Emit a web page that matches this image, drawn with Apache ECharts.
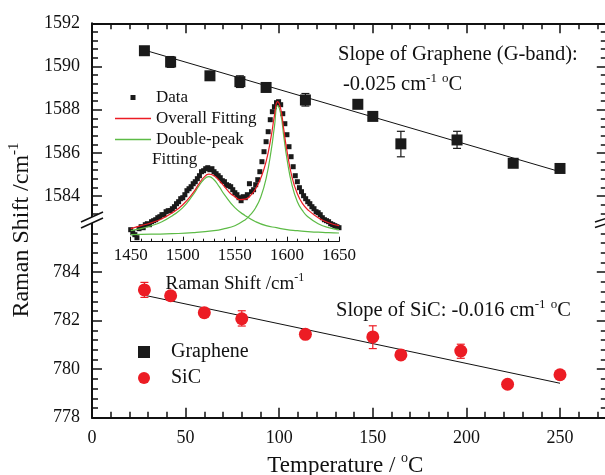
<!DOCTYPE html>
<html>
<head>
<meta charset="utf-8">
<script src="https://cdn.jsdelivr.net/npm/echarts@6/dist/echarts.min.js"></script>
<style>
  html, body { margin: 0; padding: 0; background: #fff; }
  #chart { width: 605px; height: 475px; }
</style>
</head>
<body>
<div id="chart"></div>
<script>
// main plot: temperature vs peak position
const grapheneT = [28, 42, 63, 79, 93, 114, 142, 150, 165, 195, 225, 250]
const grapheneShift = [1590.73, 1590.21, 1589.57, 1589.3, 1589.03, 1588.45, 1588.25, 1587.69, 1586.42, 1586.6, 1585.52, 1585.28]
// [T, low, high]
const grapheneErr = [[42, 1589.96, 1590.46], [79, 1589.03, 1589.57], [114, 1588.17, 1588.75], [165, 1585.82, 1587.0], [195, 1586.21, 1587.0]]
const grapheneFit = [[28, 1590.76], [250, 1585.13]]

const sicT = [28, 42, 60, 80, 114, 150, 165, 197, 222, 250]
const sicShift = [783.27, 783.03, 782.33, 782.08, 781.44, 781.33, 780.59, 780.75, 779.38, 779.77]
const sicErr = [[28, 782.96, 783.58], [80, 781.78, 782.41], [150, 780.85, 781.79], [197, 780.45, 781.03]]
const sicFit = [[28, 783.05], [250, 779.42]]

const topTicks = [1584, 1586, 1588, 1590, 1592]
const bottomTicks = [778, 780, 782, 784]

// inset: Raman spectrum (intensity in a.u.)
const specWn = [1450, 1452, 1454, 1456, 1458, 1460, 1462, 1464, 1466, 1468, 1470, 1472, 1474, 1476, 1478, 1480, 1482, 1484, 1486, 1488,
  1490, 1492, 1494, 1496, 1498, 1500, 1502, 1504, 1506, 1508, 1510, 1512, 1514, 1516, 1518, 1520, 1522, 1524, 1526, 1528,
  1530, 1532, 1534, 1536, 1538, 1540, 1542, 1544, 1546, 1548, 1550, 1552, 1554, 1556, 1558, 1560, 1562, 1564, 1566, 1568,
  1570, 1572, 1574, 1576, 1578, 1580, 1582, 1584, 1586, 1588, 1590, 1592, 1594, 1596, 1598, 1600, 1602, 1604, 1606, 1608,
  1610, 1612, 1614, 1616, 1618, 1620, 1622, 1624, 1626, 1628, 1630, 1632, 1634, 1636, 1638, 1640, 1642, 1644, 1646, 1648, 1650]
const specI = [12, 9, 7, 4, 13, 15, 14, 17, 18, 17, 20, 21, 22, 24, 25, 27, 27, 30, 31, 31,
  33, 35, 38, 40, 43, 44, 47, 51, 53, 55, 58, 60, 63, 66, 70, 71, 73, 74, 72, 73,
  70, 68, 66, 64, 61, 60, 57, 56, 55, 52, 49, 47, 44, 41, 45, 44, 47, 58, 50, 52,
  57, 62, 70, 80, 90, 100, 110, 122, 130, 135, 139, 140, 137, 128, 118, 107, 95, 85, 75, 66,
  60, 54, 50, 46, 43, 40, 38, 35, 33, 30, 29, 27, 24, 22, 21, 20, 18, 17, 16, 15, 14]

const fitWn = [1450, 1460, 1470, 1480, 1490, 1500, 1510, 1515, 1520, 1525, 1530, 1535, 1540, 1545, 1550, 1555, 1560, 1565, 1570, 1575,
  1580, 1585, 1588, 1591, 1594, 1597, 1600, 1605, 1610, 1615, 1620, 1630, 1640, 1650]
const overallFit = [13, 16, 19, 23, 29, 37, 49, 57, 64, 67.5, 66, 61, 55, 49, 45, 42, 42.5, 46, 53, 64,
  80, 106, 126, 140, 133, 112, 91, 64, 48, 38, 32, 24, 19, 16]
const dPeakWn = [1450, 1460, 1470, 1480, 1490, 1500, 1510, 1515, 1520, 1525, 1530, 1535, 1540, 1550, 1560, 1570, 1580, 1590, 1600, 1610, 1620, 1630, 1640, 1650]
const dPeak = [11, 13, 16, 20, 26, 34, 47, 55, 62, 65, 62, 55, 47, 34, 26, 20, 16, 14, 12, 11, 10, 9.5, 9, 8.7]
const gPeakWn = [1450, 1470, 1490, 1510, 1530, 1540, 1550, 1560, 1565, 1570, 1575, 1580, 1585, 1588, 1591, 1594, 1597, 1600, 1605, 1610, 1615, 1620, 1630, 1640, 1650]
const gPeak = [7, 7.5, 8, 9, 11, 13, 16, 22, 27, 34, 45, 63, 92, 115, 136, 128, 105, 83, 56, 40, 31, 25, 18, 14, 12]

const serif = "'Liberation Serif', 'Times New Roman', serif"
const ink = '#111'
const red = '#ec1c24'
const green = '#5dbb46'
const plain = v => String(v)

const zip = (a, b) => a.map((v, i) => [v, b[i]])

function errorBars (name, xi, yi, data, color) {
  return {
    type: 'custom',
    name: name,
    xAxisIndex: xi,
    yAxisIndex: yi,
    data: data,
    encode: { x: 0, y: [1, 2] },
    z: 3,
    renderItem (params, api) {
      const x = api.value(0)
      const lo = api.coord([x, api.value(1)])
      const hi = api.coord([x, api.value(2)])
      const w = 4
      const style = { stroke: color, lineWidth: 1.2 }
      return {
        type: 'group',
        children: [
          { type: 'line', shape: { x1: hi[0], y1: hi[1], x2: lo[0], y2: lo[1] }, style },
          { type: 'line', shape: { x1: hi[0] - w, y1: hi[1], x2: hi[0] + w, y2: hi[1] }, style },
          { type: 'line', shape: { x1: lo[0] - w, y1: lo[1], x2: lo[0] + w, y2: lo[1] }, style }
        ]
      }
    }
  }
}

// main frame axes: one axis for long ticks (+labels), one for short ticks
function xAxisPair (grid, position, withLabels) {
  const major = {
    gridIndex: grid, position, type: 'value', min: 0, max: 275, interval: 50,
    axisLine: { show: true, lineStyle: { color: ink, width: 2 } },
    axisTick: { show: true, inside: true, length: 10, lineStyle: { color: ink, width: 1.5 } },
    axisLabel: { show: withLabels, showMaxLabel: false, formatter: plain, color: ink, fontFamily: serif, fontSize: 18, margin: 12 },
    splitLine: { show: false }
  }
  const minor = {
    gridIndex: grid, position, type: 'value', min: 0, max: 275, interval: 10,
    axisLine: { show: false },
    axisTick: { show: true, inside: true, length: 6, lineStyle: { color: ink, width: 1.5 } },
    axisLabel: { show: false },
    splitLine: { show: false }
  }
  return [major, minor]
}

function yAxisPair (grid, position, min, max, ticks, withLabels) {
  const major = {
    gridIndex: grid, position, type: 'value', min, max,
    axisLine: { show: true, lineStyle: { color: ink, width: 2 } },
    axisTick: { show: true, inside: true, length: 10, customValues: ticks, lineStyle: { color: ink, width: 1.5 } },
    axisLabel: { show: withLabels, customValues: ticks, formatter: plain, color: ink, fontFamily: serif, fontSize: 18, margin: 12 },
    splitLine: { show: false }
  }
  const minor = {
    gridIndex: grid, position, type: 'value', min, max, interval: 0.4,
    axisLine: { show: false },
    axisTick: { show: true, inside: true, length: 6, lineStyle: { color: ink, width: 1.5 } },
    axisLabel: { show: false },
    splitLine: { show: false }
  }
  return [major, minor]
}

const chart = echarts.init(document.getElementById('chart'))

const xAxes = [
  ...xAxisPair(0, 'top', false), // 0, 1
  ...xAxisPair(1, 'bottom', true), // 2, 3
  { // 4 inset
    gridIndex: 2, type: 'value', min: 1450, max: 1650, interval: 50,
    axisLine: { show: true, lineStyle: { color: ink, width: 1 } },
    axisTick: { show: true, inside: true, length: 5, lineStyle: { color: ink, width: 1 } },
    minorTick: { show: true, splitNumber: 5, length: 3, lineStyle: { color: ink, width: 1 } },
    axisLabel: { formatter: plain, color: ink, fontFamily: serif, fontSize: 17, margin: 5 },
    splitLine: { show: false },
    name: '{n|Raman Shift /cm}{s|-1}',
    nameLocation: 'middle',
    nameGap: 30,
    nameTextStyle: {
      padding: [0, 0, 0, 0],
      rich: {
        n: { fontFamily: serif, fontSize: 19, color: ink, lineHeight: 24 },
        s: { fontFamily: serif, fontSize: 12, color: ink, verticalAlign: 'top', lineHeight: 24 }
      }
    }
  }
]
xAxes[2].name = '{n|Temperature / }{s|o}{n|C}'
xAxes[2].nameLocation = 'middle'
xAxes[2].nameGap = 34
xAxes[2].nameTextStyle = {
  padding: [0, 8, 0, 0],
  rich: {
    n: { fontFamily: serif, fontSize: 23, color: ink, lineHeight: 28 },
    s: { fontFamily: serif, fontSize: 14, color: ink, verticalAlign: 'top', lineHeight: 28 }
  }
}

const yAxes = [
  ...yAxisPair(0, 'left', 1583.2, 1592, topTicks, true), // 0, 1
  ...yAxisPair(0, 'right', 1583.2, 1592, topTicks, false), // 2, 3
  ...yAxisPair(1, 'left', 778, 785.6, bottomTicks, true), // 4, 5
  ...yAxisPair(1, 'right', 778, 785.6, bottomTicks, false), // 6, 7
  { gridIndex: 2, type: 'value', min: 0, max: 150, show: false } // 8
]

const squareIcon = 'path://M0,0H10V10H0Z'
const lineIcon = 'path://M0,0H36V1.3H0Z'

const option = {
  animation: false,
  backgroundColor: '#fff',
  grid: [
    { left: 92, top: 23.3, width: 514.8, height: 190.1, outerBoundsMode: 'none' },
    { left: 92, top: 233.4, width: 514.8, height: 184.3, outerBoundsMode: 'none' },
    { left: 130.7, top: 91.7, width: 208.3, height: 150, outerBoundsMode: 'none' }
  ],
  xAxis: xAxes,
  yAxis: yAxes,
  legend: [
    {
      data: [{ name: 'Graphene', icon: squareIcon }, { name: 'SiC', icon: 'circle' }],
      orient: 'vertical',
      left: 133,
      top: 337,
      itemWidth: 12,
      itemHeight: 12,
      itemGap: 6,
      selectedMode: false,
      textStyle: { fontFamily: serif, fontSize: 20, color: ink, padding: [0, 0, 0, 16] }
    },
    {
      data: [
        { name: 'Data', icon: squareIcon },
        { name: 'Overall Fitting', icon: lineIcon },
        { name: 'Double-peak', icon: lineIcon }
      ],
      orient: 'vertical',
      left: 110,
      top: 84,
      itemWidth: 36,
      itemHeight: 5,
      itemGap: 4,
      selectedMode: false,
      textStyle: { fontFamily: serif, fontSize: 17, color: ink }
    }
  ],
  series: [
    {
      name: 'Graphene', type: 'scatter', xAxisIndex: 0, yAxisIndex: 0,
      symbol: 'rect', symbolSize: 11, itemStyle: { color: '#1a1a1a', opacity: 1 },
      data: zip(grapheneT, grapheneShift), z: 4
    },
    errorBars('Graphene error', 0, 0, grapheneErr, '#1a1a1a'),
    {
      name: 'Graphene fit', type: 'line', xAxisIndex: 0, yAxisIndex: 0,
      symbol: 'none', lineStyle: { color: ink, width: 1 }, data: grapheneFit, z: 2
    },
    {
      name: 'SiC', type: 'scatter', xAxisIndex: 2, yAxisIndex: 4,
      symbol: 'circle', symbolSize: 13, itemStyle: { color: red, opacity: 1 },
      data: zip(sicT, sicShift), z: 4
    },
    errorBars('SiC error', 2, 4, sicErr, red),
    {
      name: 'SiC fit', type: 'line', xAxisIndex: 2, yAxisIndex: 4,
      symbol: 'none', lineStyle: { color: ink, width: 1 }, data: sicFit, z: 2
    },
    {
      name: 'Data', type: 'scatter', xAxisIndex: 4, yAxisIndex: 8,
      symbol: 'rect', symbolSize: 5, itemStyle: { color: '#1a1a1a', opacity: 1 },
      data: zip(specWn, specI), z: 3
    },
    {
      name: 'Double-peak', type: 'line', xAxisIndex: 4, yAxisIndex: 8, smooth: true,
      symbol: 'none', lineStyle: { color: green, width: 1.2 }, itemStyle: { color: green },
      data: zip(dPeakWn, dPeak), z: 4
    },
    {
      name: 'Double-peak', type: 'line', xAxisIndex: 4, yAxisIndex: 8, smooth: true,
      symbol: 'none', lineStyle: { color: green, width: 1.2 }, itemStyle: { color: green },
      data: zip(gPeakWn, gPeak), z: 4
    },
    {
      name: 'Overall Fitting', type: 'line', xAxisIndex: 4, yAxisIndex: 8, smooth: true,
      symbol: 'none', lineStyle: { color: red, width: 1.2 }, itemStyle: { color: red },
      data: zip(fitWn, overallFit), z: 5
    }
  ],
  graphic: [
    // y axis title
    {
      type: 'text', x: 22, y: 230, rotation: Math.PI / 2,
      style: {
        text: '{n|Raman Shift /cm}{s|-1}', align: 'center', verticalAlign: 'middle',
        rich: {
          n: { font: '24px ' + serif, fill: ink, lineHeight: 30 },
          s: { font: '15px ' + serif, fill: ink, verticalAlign: 'top', lineHeight: 30 }
        }
      }
    },
    {
      type: 'text', left: 338, top: 44,
      style: { text: 'Slope of Graphene (G-band):', font: '20.5px ' + serif, fill: ink }
    },
    {
      type: 'text', left: 343, top: 72,
      style: {
        text: '{n|-0.025 cm}{s|-1}{n| }{s|o}{n|C}',
        rich: {
          n: { font: '20.5px ' + serif, fill: ink, lineHeight: 26 },
          s: { font: '13px ' + serif, fill: ink, verticalAlign: 'top', lineHeight: 26 }
        }
      }
    },
    {
      type: 'text', left: 336, top: 298,
      style: {
        text: '{n|Slope of SiC: -0.016 cm}{s|-1}{n| }{s|o}{n|C}',
        rich: {
          n: { font: '20.5px ' + serif, fill: ink, lineHeight: 26 },
          s: { font: '13px ' + serif, fill: ink, verticalAlign: 'top', lineHeight: 26 }
        }
      }
    },
    { // second line of the inset legend label
      type: 'text', left: 152, top: 151,
      style: { text: 'Fitting', font: '17px ' + serif, fill: ink }
    },
    // axis break marks
    { type: 'line', shape: { x1: 92, y1: 213, x2: 92, y2: 234 }, style: { stroke: ink, lineWidth: 2 } },
    { type: 'polygon', shape: { points: [[81, 222], [103, 212], [103, 218], [81, 228]] }, style: { fill: '#fff' } },
    { type: 'line', shape: { x1: 81, y1: 222, x2: 103, y2: 212 }, style: { stroke: ink, lineWidth: 1.5 } },
    { type: 'line', shape: { x1: 81, y1: 228, x2: 103, y2: 218 }, style: { stroke: ink, lineWidth: 1.5 } },
    { type: 'line', shape: { x1: 595, y1: 222, x2: 610, y2: 217 }, style: { stroke: ink, lineWidth: 1.5 } },
    { type: 'line', shape: { x1: 595, y1: 227.5, x2: 610, y2: 222.5 }, style: { stroke: ink, lineWidth: 1.5 } }
  ]
}

chart.setOption(option)
</script>
</body>
</html>
